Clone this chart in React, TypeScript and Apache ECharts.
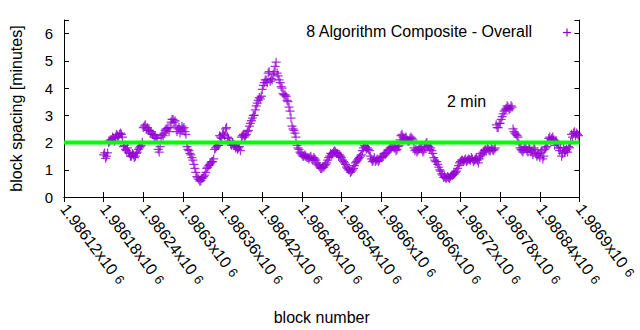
import React, { useEffect, useRef } from "react";
import * as echarts from "echarts";

// x axis: block numbers
const xMin = 1986120;
const xMax = 1986900;
const xInterval = 60;
const yMin = 0;
const yMax = 6.5;
const yInterval = 1;

// sampled blocks: two interleaved runs, 3 blocks apart each
const blockStartA = 1986180;
const blockStartB = 1986181.5;
const blockStep = 3;

// block spacing [minutes] (run A)
const spacingA = [
  1.55, 1.42, 1.62, 2.05, 2.1, 2.15, 2.2, 2.25, 2.3, 2.3,
  1.85, 1.75, 1.8, 1.6, 1.5, 1.55, 1.5, 1.65, 1.8, 1.9,
  2.55, 2.65, 2.55, 2.45, 2.4, 2.3, 2.25, 2.15, 1.65, 2.2,
  2.25, 2.45, 2.5, 2.4, 2.75, 2.85, 2.8, 2.4, 2.55, 2.45,
  2.5, 2.4, 1.85, 1.7, 1.55, 1.35, 1.05, 0.75, 0.65, 0.6,
  0.7, 0.8, 1.05, 1.15, 1.25, 1.3, 1.75, 1.85, 1.9, 2.2,
  2.3, 2.25, 2.55, 2.15, 1.95, 2.0, 1.9, 1.85, 1.8, 1.7,
  2.25, 2.2, 2.3, 2.45, 2.7, 2.9, 3.0, 3.35, 3.55, 3.6,
  3.95, 4.2, 4.3, 4.55, 4.25, 4.3, 4.6, 4.95, 4.45, 4.2,
  4.0, 3.75, 3.7, 3.5, 3.15, 2.6, 2.45, 2.2, 1.8, 1.65,
  1.55, 1.5, 1.5, 1.45, 1.45, 1.4, 1.45, 1.35, 1.2, 1.1,
  1.05, 1.1, 1.2, 1.35, 1.5, 1.55, 1.65, 1.65, 1.6, 1.55,
  1.45, 1.3, 1.2, 1.05, 1.0, 0.95, 1.05, 1.25, 1.35, 1.45,
  1.55, 1.8, 1.85, 1.8, 1.7, 1.4, 1.35, 1.3, 1.4, 1.35,
  1.45, 1.5, 1.55, 1.65, 1.75, 1.8, 1.85, 1.8, 1.75, 1.9,
  2.25, 2.2, 2.15, 2.1, 2.05, 2.2, 2.1, 1.7, 1.65, 1.75,
  1.85, 1.65, 1.8, 2.0, 1.85, 1.8, 1.6, 1.35, 1.3, 1.1,
  0.95, 0.8, 0.75, 0.7, 0.72, 0.75, 0.8, 0.85, 0.95, 1.15,
  1.3, 1.35, 1.35, 1.3, 1.4, 1.35, 1.4, 1.35, 1.45, 1.25,
  1.5, 1.55, 1.7, 1.7, 1.75, 1.7, 1.75, 1.75, 2.65, 2.55,
  2.7, 2.95, 3.15, 3.25, 3.3, 3.25, 3.3, 2.4, 2.3, 2.2,
  1.8, 1.7, 1.75, 1.8, 1.65, 1.75, 1.7, 1.8, 1.6, 1.55,
  1.45, 1.7, 1.5, 1.8, 2.0, 2.2, 2.15, 2.1, 2.05, 1.95,
  1.7, 1.5, 1.8, 1.7, 1.65, 1.8, 2.3, 2.35, 2.25, 2.3,
];

// block spacing [minutes] (run B)
const spacingB = [
  1.62, 1.5, 2.0, 2.1, 2.2, 2.05, 2.3, 2.2, 2.35, 2.2,
  1.9, 1.7, 1.65, 1.5, 1.6, 1.45, 1.6, 1.75, 1.85, 2.0,
  2.6, 2.5, 2.45, 2.35, 2.3, 2.2, 2.15, 1.75, 1.85, 2.3,
  2.35, 2.5, 2.55, 2.55, 2.85, 2.75, 2.6, 2.5, 2.35, 2.6,
  2.55, 2.3, 1.75, 1.6, 1.45, 1.2, 0.9, 0.7, 0.58, 0.68,
  0.75, 0.9, 1.1, 1.2, 1.3, 1.4, 1.8, 1.9, 2.25, 2.15,
  2.35, 2.5, 2.2, 2.05, 1.9, 1.95, 1.8, 1.75, 1.85, 2.2,
  2.3, 2.25, 2.4, 2.6, 2.8, 3.0, 3.2, 3.45, 3.65, 3.7,
  4.1, 4.3, 4.2, 4.6, 4.35, 4.5, 4.8, 4.55, 4.3, 4.05,
  3.8, 3.75, 3.55, 3.3, 2.9, 2.5, 2.35, 1.9, 1.75, 1.6,
  1.5, 1.55, 1.45, 1.4, 1.5, 1.35, 1.4, 1.25, 1.15, 1.05,
  1.1, 1.15, 1.25, 1.45, 1.6, 1.6, 1.7, 1.6, 1.5, 1.5,
  1.35, 1.25, 1.1, 1.0, 0.9, 1.0, 1.15, 1.3, 1.4, 1.5,
  1.7, 1.9, 1.75, 1.75, 1.5, 1.3, 1.45, 1.35, 1.3, 1.45,
  1.5, 1.6, 1.6, 1.7, 1.8, 1.85, 1.8, 1.7, 1.85, 2.1,
  2.3, 2.1, 2.2, 2.05, 2.15, 2.15, 1.8, 1.75, 1.7, 1.8,
  1.75, 1.7, 1.95, 1.9, 1.75, 1.7, 1.45, 1.3, 1.2, 1.0,
  0.85, 0.72, 0.7, 0.75, 0.68, 0.8, 0.85, 0.9, 1.05, 1.25,
  1.35, 1.3, 1.4, 1.35, 1.38, 1.45, 1.3, 1.4, 1.35, 1.4,
  1.6, 1.65, 1.75, 1.8, 1.7, 1.8, 1.7, 1.8, 2.55, 2.7,
  2.85, 3.05, 3.2, 3.35, 3.2, 3.35, 2.5, 2.35, 2.25, 1.95,
  1.75, 1.65, 1.85, 1.7, 1.8, 1.65, 1.55, 1.75, 1.5, 1.6,
  1.65, 1.4, 1.75, 1.85, 2.15, 2.1, 2.2, 1.9, 2.0, 1.8,
  1.8, 1.6, 1.65, 1.75, 1.85, 2.0, 2.2, 2.4, 2.35, 2.25,
];

const referenceValue = 2;
const seriesName = "8 Algorithm Composite - Overall";
const annotation = "2 min";

const PURPLE = "#9400d3";
const GREEN = "#00ff00";
const FONT = "Liberation Sans, Arial, sans-serif";
const PLUS = "path://M0,4.3H4.3V0H5.7V4.3H10V5.7H5.7V10H4.3V5.7H0Z";

function fmtX(v: number) {
  const s = parseFloat((v / 1e6).toPrecision(6)).toString();
  return `{a|${s}x10}{b|6}`;
}

export default function App() {
  const ref = useRef<HTMLDivElement>(null);
  useEffect(() => {
    if (!ref.current) return;
    document.body.style.margin = "0";
    const chart = echarts.init(ref.current, undefined, { renderer: "svg" });
    const points = [
      ...spacingA.map((v, i) => [blockStartA + i * blockStep, v]),
      ...spacingB.map((v, i) => [blockStartB + i * blockStep, v]),
    ];
    const gridL = 64, gridT = 20, gridW = 545, gridH = 178;
    const common = {
      type: "value",
      axisLine: { show: true, lineStyle: { color: "#000", width: 1 } },
      axisTick: { show: true, inside: true, length: 5, lineStyle: { color: "#000" } },
      splitLine: { show: false },
    };
    chart.setOption({
      animation: false,
      backgroundColor: "#fff",
      textStyle: { fontFamily: FONT },
      grid: { left: gridL, top: gridT, width: gridW, height: gridH, show: false },
      xAxis: [
        {
          ...common,
          min: xMin,
          max: xMax,
          interval: xInterval,
          position: "bottom",
          name: "block number",
          nameLocation: "middle",
          nameGap: 112,
          nameTextStyle: { color: "#000", fontSize: 16, fontFamily: FONT },
          axisLabel: {
            rotate: -53,
            margin: 9,
            color: "#000",
            formatter: fmtX,
            rich: {
              a: { fontSize: 16, color: "#000", fontFamily: FONT },
              b: { fontSize: 13, color: "#000", fontFamily: FONT, padding: [0, 0, 0, 5] },
            },
          },
        },
        {
          ...common,
          min: xMin,
          max: xMax,
          interval: xInterval,
          position: "top",
          axisLabel: { show: false },
        },
      ],
      yAxis: [
        {
          ...common,
          min: yMin,
          max: yMax,
          interval: yInterval,
          position: "left",
          name: "block spacing [minutes]",
          nameLocation: "middle",
          nameGap: 40,
          nameTextStyle: { color: "#000", fontSize: 16, fontFamily: FONT },
          axisLabel: {
            color: "#000",
            fontSize: 15,
            margin: 11,
            formatter: (v: number) => (v % 1 === 0 ? String(v) : ""),
          },
        },
        {
          ...common,
          min: yMin,
          max: yMax,
          interval: yInterval,
          position: "right",
          axisLabel: { show: false },
        },
      ],
      series: [
        {
          name: seriesName,
          type: "scatter",
          data: points,
          symbol: PLUS,
          symbolSize: 9,
          itemStyle: { color: PURPLE },
          z: 2,
        },
        {
          type: "line",
          data: [
            [xMin, referenceValue],
            [xMax, referenceValue],
          ],
          symbol: "none",
          lineStyle: { color: GREEN, width: 4 },
          z: 3,
        },
      ],
      graphic: [
        {
          type: "text",
          right: 640 - 533,
          top: 23,
          style: { text: seriesName, fontSize: 16, fontFamily: FONT, fill: "#000" },
        },
        { type: "line", shape: { x1: 563, y1: 32.5, x2: 571, y2: 32.5 }, style: { stroke: PURPLE, lineWidth: 1.2 } },
        { type: "line", shape: { x1: 567, y1: 28.5, x2: 567, y2: 36.5 }, style: { stroke: PURPLE, lineWidth: 1.2 } },
        {
          type: "text",
          left: 447,
          top: 93,
          style: { text: annotation, fontSize: 16, fontFamily: FONT, fill: "#000" },
        },
      ],
    });
    return () => chart.dispose();
  }, []);
  return <div ref={ref} style={{ width: 640, height: 330 }} />;
}
